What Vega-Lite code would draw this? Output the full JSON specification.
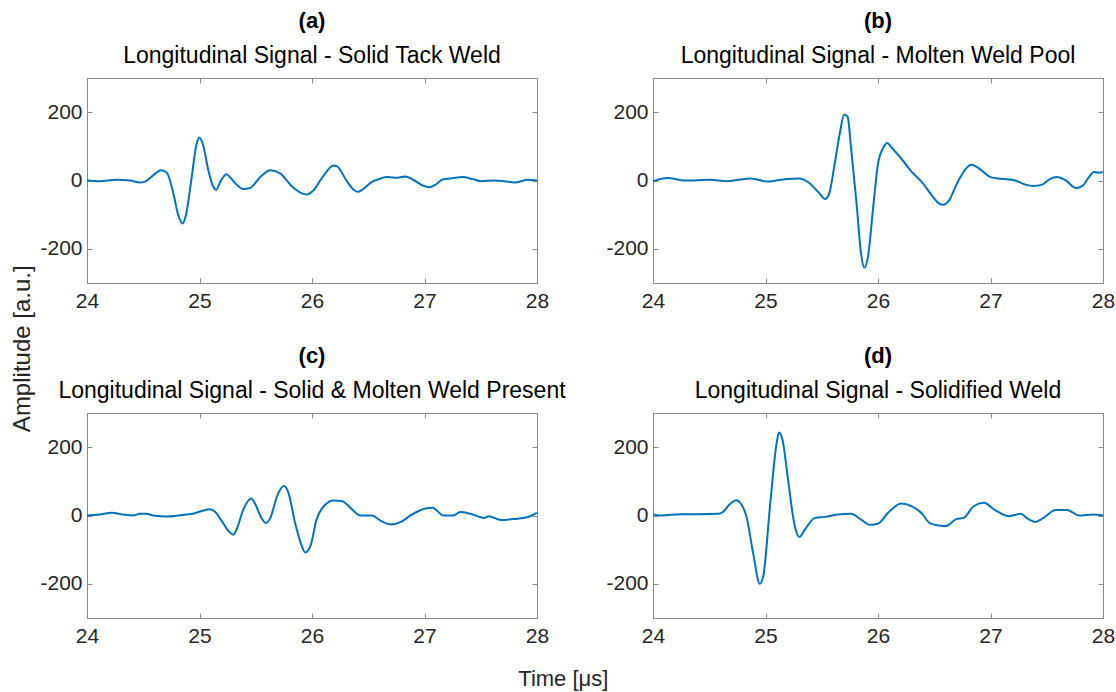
{
  "$schema": "https://vega.github.io/schema/vega-lite/v6.json",
  "background": "white",
  "padding": {"left": 11, "top": 9, "right": 6, "bottom": 2},
  "config": {
    "font": "Liberation Sans",
    "view": {"stroke": "#8a8a8a", "strokeWidth": 1},
    "axis": {"grid": false, "domainColor": "#8a8a8a", "tickColor": "#8a8a8a", "tickSize": -5, "labelFontSize": 21, "labelColor": "#262626", "labelFont": "Liberation Sans", "labelFlush": false, "labelOverlap": false, "labelExpr": "'' + datum.value"},
    "title": {"fontSize": 22, "fontWeight": "bold", "subtitleFontSize": 23, "subtitleColor": "#000000", "color": "#000000", "subtitlePadding": 12, "offset": 9, "anchor": "middle", "font": "Liberation Sans", "subtitleFont": "Liberation Sans"}
  },
  "title": {"text": "Time [μs]", "orient": "bottom", "fontWeight": "normal", "fontSize": 22, "anchor": "middle", "offset": 22, "color": "#262626"},
  "datasets": {
    "a": [
      {"t": 24.0, "amp": 0}, {"t": 24.11, "amp": -2}, {"t": 24.26, "amp": 2}, {"t": 24.38, "amp": 0}, {"t": 24.47, "amp": -6}, {"t": 24.51, "amp": -4}, {"t": 24.57, "amp": 10}, {"t": 24.66, "amp": 30}, {"t": 24.71, "amp": 23}, {"t": 24.77, "amp": -41}, {"t": 24.81, "amp": -100}, {"t": 24.85, "amp": -126}, {"t": 24.88, "amp": -100}, {"t": 24.93, "amp": 8}, {"t": 24.97, "amp": 101}, {"t": 25.0, "amp": 126}, {"t": 25.03, "amp": 106}, {"t": 25.08, "amp": 28}, {"t": 25.12, "amp": -17}, {"t": 25.15, "amp": -27}, {"t": 25.18, "amp": -7}, {"t": 25.24, "amp": 18}, {"t": 25.27, "amp": 10}, {"t": 25.33, "amp": -12}, {"t": 25.39, "amp": -25}, {"t": 25.45, "amp": -22}, {"t": 25.54, "amp": 10}, {"t": 25.63, "amp": 30}, {"t": 25.72, "amp": 20}, {"t": 25.82, "amp": -17}, {"t": 25.9, "amp": -36}, {"t": 25.95, "amp": -41}, {"t": 26.01, "amp": -30}, {"t": 26.1, "amp": 13}, {"t": 26.19, "amp": 44}, {"t": 26.22, "amp": 42}, {"t": 26.31, "amp": -2}, {"t": 26.37, "amp": -27}, {"t": 26.41, "amp": -33}, {"t": 26.46, "amp": -24}, {"t": 26.52, "amp": -7}, {"t": 26.61, "amp": 6}, {"t": 26.67, "amp": 10}, {"t": 26.76, "amp": 8}, {"t": 26.83, "amp": 12}, {"t": 26.91, "amp": 0}, {"t": 26.98, "amp": -14}, {"t": 27.04, "amp": -20}, {"t": 27.1, "amp": -12}, {"t": 27.16, "amp": 3}, {"t": 27.23, "amp": 6}, {"t": 27.34, "amp": 10}, {"t": 27.43, "amp": 4}, {"t": 27.5, "amp": -2}, {"t": 27.62, "amp": 0}, {"t": 27.71, "amp": -2}, {"t": 27.8, "amp": -6}, {"t": 27.92, "amp": 2}, {"t": 28.0, "amp": 0}
    ],
    "b": [
      {"t": 24.0, "amp": -2}, {"t": 24.13, "amp": 7}, {"t": 24.28, "amp": 0}, {"t": 24.51, "amp": 2}, {"t": 24.66, "amp": -2}, {"t": 24.87, "amp": 6}, {"t": 25.02, "amp": -3}, {"t": 25.17, "amp": 4}, {"t": 25.3, "amp": 6}, {"t": 25.38, "amp": -5}, {"t": 25.47, "amp": -34}, {"t": 25.53, "amp": -54}, {"t": 25.57, "amp": -34}, {"t": 25.61, "amp": 39}, {"t": 25.66, "amp": 137}, {"t": 25.7, "amp": 193}, {"t": 25.73, "amp": 186}, {"t": 25.76, "amp": 98}, {"t": 25.81, "amp": -69}, {"t": 25.85, "amp": -216}, {"t": 25.88, "amp": -255}, {"t": 25.91, "amp": -225}, {"t": 25.96, "amp": -69}, {"t": 26.0, "amp": 49}, {"t": 26.05, "amp": 98}, {"t": 26.08, "amp": 110}, {"t": 26.13, "amp": 93}, {"t": 26.19, "amp": 71}, {"t": 26.3, "amp": 25}, {"t": 26.39, "amp": -5}, {"t": 26.48, "amp": -44}, {"t": 26.54, "amp": -67}, {"t": 26.58, "amp": -71}, {"t": 26.63, "amp": -59}, {"t": 26.7, "amp": -10}, {"t": 26.78, "amp": 34}, {"t": 26.83, "amp": 46}, {"t": 26.89, "amp": 37}, {"t": 27.0, "amp": 10}, {"t": 27.1, "amp": 5}, {"t": 27.22, "amp": 0}, {"t": 27.31, "amp": -12}, {"t": 27.38, "amp": -16}, {"t": 27.46, "amp": -12}, {"t": 27.53, "amp": 5}, {"t": 27.59, "amp": 10}, {"t": 27.67, "amp": 0}, {"t": 27.76, "amp": -22}, {"t": 27.82, "amp": -15}, {"t": 27.87, "amp": 8}, {"t": 27.92, "amp": 25}, {"t": 27.96, "amp": 23}, {"t": 28.0, "amp": 24}
    ],
    "c": [
      {"t": 24.0, "amp": 0}, {"t": 24.11, "amp": 3}, {"t": 24.22, "amp": 8}, {"t": 24.32, "amp": 3}, {"t": 24.41, "amp": 0}, {"t": 24.47, "amp": 5}, {"t": 24.53, "amp": 5}, {"t": 24.59, "amp": 0}, {"t": 24.71, "amp": -3}, {"t": 24.83, "amp": 1}, {"t": 24.94, "amp": 5}, {"t": 25.02, "amp": 13}, {"t": 25.09, "amp": 18}, {"t": 25.14, "amp": 10}, {"t": 25.2, "amp": -17}, {"t": 25.26, "amp": -46}, {"t": 25.3, "amp": -56}, {"t": 25.33, "amp": -41}, {"t": 25.39, "amp": 18}, {"t": 25.46, "amp": 50}, {"t": 25.49, "amp": 37}, {"t": 25.55, "amp": -7}, {"t": 25.59, "amp": -22}, {"t": 25.63, "amp": -7}, {"t": 25.69, "amp": 57}, {"t": 25.75, "amp": 86}, {"t": 25.79, "amp": 67}, {"t": 25.85, "amp": -22}, {"t": 25.91, "amp": -90}, {"t": 25.94, "amp": -108}, {"t": 25.99, "amp": -85}, {"t": 26.04, "amp": -12}, {"t": 26.12, "amp": 32}, {"t": 26.19, "amp": 44}, {"t": 26.27, "amp": 42}, {"t": 26.34, "amp": 23}, {"t": 26.43, "amp": 0}, {"t": 26.53, "amp": 0}, {"t": 26.62, "amp": -17}, {"t": 26.7, "amp": -26}, {"t": 26.8, "amp": -17}, {"t": 26.88, "amp": 1}, {"t": 27.0, "amp": 20}, {"t": 27.07, "amp": 23}, {"t": 27.17, "amp": 0}, {"t": 27.25, "amp": 0}, {"t": 27.32, "amp": 10}, {"t": 27.41, "amp": 5}, {"t": 27.53, "amp": -7}, {"t": 27.57, "amp": -2}, {"t": 27.68, "amp": -13}, {"t": 27.8, "amp": -10}, {"t": 27.91, "amp": -5}, {"t": 28.0, "amp": 8}
    ],
    "d": [
      {"t": 24.0, "amp": 3}, {"t": 24.07, "amp": 0}, {"t": 24.25, "amp": 4}, {"t": 24.4, "amp": 4}, {"t": 24.58, "amp": 5}, {"t": 24.62, "amp": 10}, {"t": 24.68, "amp": 32}, {"t": 24.74, "amp": 45}, {"t": 24.78, "amp": 35}, {"t": 24.83, "amp": -2}, {"t": 24.89, "amp": -110}, {"t": 24.95, "amp": -200}, {"t": 24.98, "amp": -178}, {"t": 25.04, "amp": 27}, {"t": 25.1, "amp": 214}, {"t": 25.12, "amp": 243}, {"t": 25.15, "amp": 223}, {"t": 25.2, "amp": 106}, {"t": 25.26, "amp": -31}, {"t": 25.3, "amp": -63}, {"t": 25.35, "amp": -41}, {"t": 25.44, "amp": -7}, {"t": 25.53, "amp": -4}, {"t": 25.64, "amp": 3}, {"t": 25.76, "amp": 5}, {"t": 25.85, "amp": -12}, {"t": 25.93, "amp": -27}, {"t": 26.0, "amp": -24}, {"t": 26.09, "amp": 8}, {"t": 26.21, "amp": 35}, {"t": 26.3, "amp": 27}, {"t": 26.39, "amp": 6}, {"t": 26.46, "amp": -22}, {"t": 26.54, "amp": -29}, {"t": 26.6, "amp": -31}, {"t": 26.7, "amp": -10}, {"t": 26.76, "amp": -7}, {"t": 26.85, "amp": 27}, {"t": 26.94, "amp": 37}, {"t": 27.04, "amp": 16}, {"t": 27.16, "amp": -2}, {"t": 27.27, "amp": 5}, {"t": 27.32, "amp": -7}, {"t": 27.4, "amp": -19}, {"t": 27.47, "amp": -7}, {"t": 27.58, "amp": 16}, {"t": 27.68, "amp": 16}, {"t": 27.79, "amp": 0}, {"t": 27.91, "amp": 3}, {"t": 28.0, "amp": 0}
    ]
  },
  "vconcat": [
    {
      "title": {"text": "Amplitude [a.u.]", "orient": "left", "fontWeight": "normal", "fontSize": 24, "anchor": "middle", "offset": 4, "dx": -21, "color": "#262626"},
      "columns": 2,
      "bounds": "flush",
      "spacing": {"column": 116, "row": 130},
      "concat": [
        {
          "width": 450, "height": 205,
          "title": {"text": "(a)", "subtitle": "Longitudinal Signal - Solid Tack Weld"},
          "data": {"name": "a"},
          "layer": [
            {"mark": {"type": "line", "color": "#0072BD", "strokeWidth": 2, "interpolate": "monotone"},
             "encoding": {
               "x": {"field": "t", "type": "quantitative", "scale": {"domain": [24, 28], "nice": false}, "axis": {"orient": "bottom", "values": [24, 25, 26, 27, 28], "title": null, "labelPadding": 12}},
               "y": {"field": "amp", "type": "quantitative", "scale": {"domain": [-300, 300], "nice": false}, "axis": {"orient": "left", "values": [-200, 0, 200], "title": null, "labelPadding": 10}}}},
            {"mark": {"type": "line", "opacity": 0},
             "encoding": {
               "x": {"field": "t", "type": "quantitative", "axis": {"orient": "top", "values": [24, 25, 26, 27, 28], "labels": false, "title": null}},
               "y": {"field": "amp", "type": "quantitative", "axis": {"orient": "right", "values": [-200, 0, 200], "labels": false, "title": null}}}}
          ],
          "resolve": {"axis": {"x": "independent", "y": "independent"}}
        },
        {
          "width": 450, "height": 205,
          "title": {"text": "(b)", "subtitle": "Longitudinal Signal - Molten Weld Pool"},
          "data": {"name": "b"},
          "layer": [
            {"mark": {"type": "line", "color": "#0072BD", "strokeWidth": 2, "interpolate": "monotone"},
             "encoding": {
               "x": {"field": "t", "type": "quantitative", "scale": {"domain": [24, 28], "nice": false}, "axis": {"orient": "bottom", "values": [24, 25, 26, 27, 28], "title": null, "labelPadding": 12}},
               "y": {"field": "amp", "type": "quantitative", "scale": {"domain": [-300, 300], "nice": false}, "axis": {"orient": "left", "values": [-200, 0, 200], "title": null, "labelPadding": 10}}}},
            {"mark": {"type": "line", "opacity": 0},
             "encoding": {
               "x": {"field": "t", "type": "quantitative", "axis": {"orient": "top", "values": [24, 25, 26, 27, 28], "labels": false, "title": null}},
               "y": {"field": "amp", "type": "quantitative", "axis": {"orient": "right", "values": [-200, 0, 200], "labels": false, "title": null}}}}
          ],
          "resolve": {"axis": {"x": "independent", "y": "independent"}}
        },
        {
          "width": 450, "height": 205,
          "title": {"text": "(c)", "subtitle": "Longitudinal Signal - Solid & Molten Weld Present"},
          "data": {"name": "c"},
          "layer": [
            {"mark": {"type": "line", "color": "#0072BD", "strokeWidth": 2, "interpolate": "monotone"},
             "encoding": {
               "x": {"field": "t", "type": "quantitative", "scale": {"domain": [24, 28], "nice": false}, "axis": {"orient": "bottom", "values": [24, 25, 26, 27, 28], "title": null, "labelPadding": 12}},
               "y": {"field": "amp", "type": "quantitative", "scale": {"domain": [-300, 300], "nice": false}, "axis": {"orient": "left", "values": [-200, 0, 200], "title": null, "labelPadding": 10}}}},
            {"mark": {"type": "line", "opacity": 0},
             "encoding": {
               "x": {"field": "t", "type": "quantitative", "axis": {"orient": "top", "values": [24, 25, 26, 27, 28], "labels": false, "title": null}},
               "y": {"field": "amp", "type": "quantitative", "axis": {"orient": "right", "values": [-200, 0, 200], "labels": false, "title": null}}}}
          ],
          "resolve": {"axis": {"x": "independent", "y": "independent"}}
        },
        {
          "width": 450, "height": 205,
          "title": {"text": "(d)", "subtitle": "Longitudinal Signal - Solidified Weld"},
          "data": {"name": "d"},
          "layer": [
            {"mark": {"type": "line", "color": "#0072BD", "strokeWidth": 2, "interpolate": "monotone"},
             "encoding": {
               "x": {"field": "t", "type": "quantitative", "scale": {"domain": [24, 28], "nice": false}, "axis": {"orient": "bottom", "values": [24, 25, 26, 27, 28], "title": null, "labelPadding": 12}},
               "y": {"field": "amp", "type": "quantitative", "scale": {"domain": [-300, 300], "nice": false}, "axis": {"orient": "left", "values": [-200, 0, 200], "title": null, "labelPadding": 10}}}},
            {"mark": {"type": "line", "opacity": 0},
             "encoding": {
               "x": {"field": "t", "type": "quantitative", "axis": {"orient": "top", "values": [24, 25, 26, 27, 28], "labels": false, "title": null}},
               "y": {"field": "amp", "type": "quantitative", "axis": {"orient": "right", "values": [-200, 0, 200], "labels": false, "title": null}}}}
          ],
          "resolve": {"axis": {"x": "independent", "y": "independent"}}
        }
      ]
    }
  ]
}
